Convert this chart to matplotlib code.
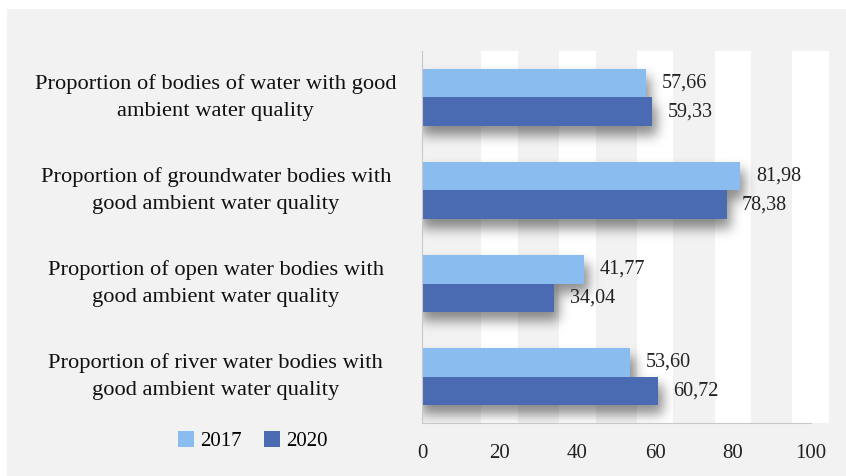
import numpy as np
import matplotlib.pyplot as plt
from matplotlib.patches import Rectangle
from matplotlib.transforms import blended_transform_factory

categories = [
    "Proportion of bodies of water with good\nambient water quality",
    "Proportion of groundwater bodies with\ngood ambient water quality",
    "Proportion of open water bodies with\ngood ambient water quality",
    "Proportion of river water bodies with\ngood ambient water quality",
]
vals_2017 = [57.66, 81.98, 41.77, 53.60]
vals_2020 = [59.33, 78.38, 34.04, 60.72]
x_ticks = [0, 20, 40, 60, 80, 100]

LIGHT = "#8bbcf0"
DARK = "#4a6ab2"
BG = "#f2f2f2"
BAR_H = 0.31

plt.rcParams["font.family"] = ["Liberation Serif", "DejaVu Serif"]

fig = plt.figure(figsize=(8.46, 4.76), dpi=100)
fig.patch.set_facecolor("white")
# grey card behind everything
fig.patches.append(Rectangle((0.008, 0), 0.992, 0.981, transform=fig.transFigure,
                             facecolor=BG, edgecolor="none", zorder=-10))

ax = fig.add_axes([0.4988, 0.1113, 0.4822, 0.7816])
ax.set_facecolor(BG)

# white vertical bands around each gridline
for t in x_ticks[1:]:
    ax.axvspan(t - 4.7, t + 4.7, color="white", zorder=0, lw=0)

y = np.arange(len(categories))

# soft drop shadow under each bar group
nx, ny = 420, 372
xs = np.linspace(0, 105, nx)
ys = np.linspace(-0.5, 3.5, ny)
X, Y = np.meshgrid(xs, ys)
mask = np.zeros_like(X)
dx, dy = 1.2, 0.10
for i in range(len(categories)):
    for v, off in ((vals_2017[i], -BAR_H / 2), (vals_2020[i], BAR_H / 2)):
        yc = y[i] + off + dy
        inside = (X >= 0) & (X <= v + dx) & (Y >= yc - BAR_H / 2) & (Y <= yc + BAR_H / 2)
        mask[inside] = 1.0

def blur(a, sigma, axis):
    r = int(3 * sigma)
    k = np.exp(-0.5 * (np.arange(-r, r + 1) / sigma) ** 2)
    k /= k.sum()
    return np.apply_along_axis(lambda m: np.convolve(m, k, mode="same"), axis, a)

mask = blur(blur(mask, 6, 0), 6, 1)
rgba = np.zeros((ny, nx, 4))
rgba[..., 3] = mask * 0.45
ax.imshow(rgba, extent=(0, 105, 3.5, -0.5), aspect="auto", zorder=1, interpolation="bilinear")
ax.set_xlim(0, 105)
ax.set_ylim(3.5, -0.5)

b1 = ax.barh(y - BAR_H / 2, vals_2017, height=BAR_H, color=LIGHT, label="2017", zorder=2)
b2 = ax.barh(y + BAR_H / 2, vals_2020, height=BAR_H, color=DARK, label="2020", zorder=2)

for bars, vals in ((b1, vals_2017), (b2, vals_2020)):
    for rect, v in zip(bars, vals):
        ax.annotate(f"{v:.2f}".replace(".", ","),
                    (v, rect.get_y() + rect.get_height() / 2),
                    xytext=(11, 0), textcoords="offset points",
                    ha="left", va="center", fontsize=14.5, color="#222222", zorder=3)

# category labels centred in the left margin
label_tr = blended_transform_factory(fig.transFigure, ax.transData)
for yi, cat in zip(y, categories):
    ax.text(0.255, yi, cat, transform=label_tr,
            ha="center", va="center", fontsize=16.2, linespacing=1.55, color="#111111")

ax.set_yticks([])
ax.set_xticks(x_ticks)
ax.set_xticklabels([str(t) for t in x_ticks], fontsize=15)
ax.tick_params(axis="x", length=0, pad=15, colors="#222222")
for s in ("top", "right"):
    ax.spines[s].set_visible(False)
ax.spines["left"].set_color("#c8c8c8")
ax.spines["bottom"].set_color("#c8c8c8")
ax.spines["bottom"].set_bounds(0, 100)

fig.legend(handles=[b1, b2], loc="center", bbox_to_anchor=(0.299, 0.073), ncol=2,
           frameon=False, fontsize=15, handlelength=0.75, handleheight=0.75,
           handletextpad=0.3, columnspacing=1.1)

fig.savefig("out.png", dpi=100, facecolor=fig.get_facecolor())
